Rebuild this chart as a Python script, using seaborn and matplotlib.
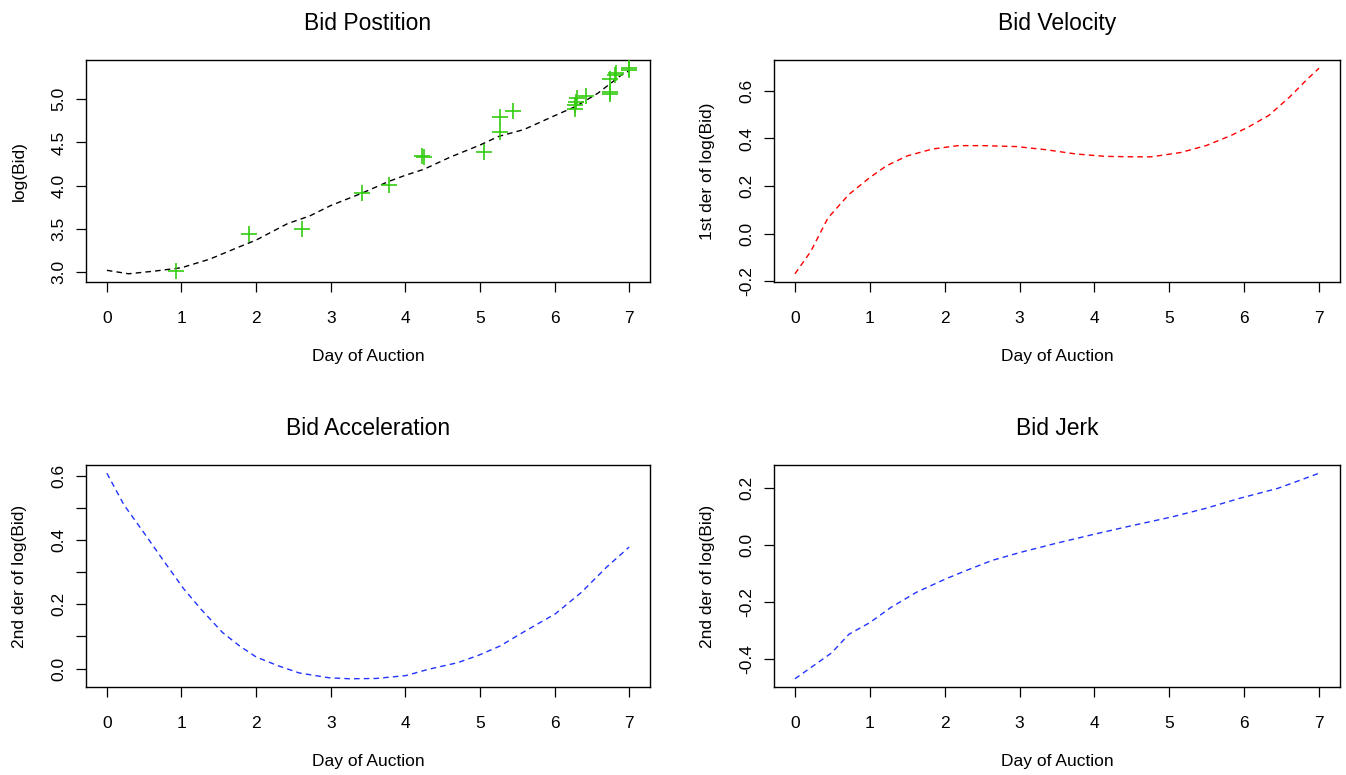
import matplotlib
matplotlib.use("Agg")
import matplotlib.pyplot as plt
import seaborn as sns

# ---------------- data ----------------
bid_day = [0.92, 1.90, 2.61, 3.42, 3.78, 4.23, 4.25, 5.05, 5.27, 5.27, 5.45,
           6.27, 6.28, 6.29, 6.30, 6.42, 6.75, 6.75, 6.75, 6.81, 6.82, 7.0, 7.0]
bid_log = [3.01, 3.44, 3.50, 3.92, 4.01, 4.34, 4.33, 4.39, 4.80, 4.62, 4.87,
           4.89, 4.93, 4.97, 5.01, 5.04, 5.08, 5.06, 5.24, 5.28, 5.31, 5.36, 5.34]

pos_day = [0.0, 0.29, 0.63, 1.0, 1.38, 1.77, 2.0, 2.42, 2.72, 3.0, 3.41, 3.78,
           4.0, 4.25, 4.60, 5.0, 5.25, 5.59, 6.0, 6.29, 6.58, 6.91, 7.0]
pos_val = [3.02, 2.98, 3.01, 3.05, 3.15, 3.29, 3.37, 3.56, 3.65, 3.77, 3.91, 4.05,
           4.12, 4.19, 4.33, 4.47, 4.57, 4.65, 4.81, 4.92, 5.07, 5.29, 5.33]

vel_day = [0.0, 0.21, 0.44, 0.72, 1.0, 1.22, 1.50, 1.84, 2.18, 2.51, 2.96, 3.35,
           3.75, 4.14, 4.53, 4.76, 5.15, 5.49, 5.82, 6.05, 6.33, 6.61, 6.83, 7.0]
vel_val = [-0.168, -0.075, 0.066, 0.165, 0.236, 0.285, 0.327, 0.356, 0.370, 0.370,
           0.366, 0.353, 0.335, 0.325, 0.323, 0.323, 0.341, 0.370, 0.412, 0.447,
           0.497, 0.575, 0.645, 0.695]

acc_day = [0.0, 0.23, 0.52, 0.74, 1.03, 1.26, 1.55, 1.78, 2.0, 2.29, 2.58, 2.98,
           3.26, 3.61, 4.01, 4.30, 4.70, 4.98, 5.27, 5.61, 6.01, 6.36, 6.70, 7.0]
acc_val = [0.608, 0.509, 0.415, 0.342, 0.248, 0.185, 0.112, 0.070, 0.036, 0.009,
           -0.014, -0.029, -0.032, -0.031, -0.022, -0.003, 0.018, 0.041, 0.070,
           0.117, 0.170, 0.237, 0.316, 0.378]

jerk_day = [0.0, 0.27, 0.49, 0.72, 1.0, 1.28, 1.62, 2.01, 2.29, 2.63, 3.02, 3.47,
            3.98, 4.48, 5.04, 5.49, 5.94, 6.45, 6.67, 7.0]
jerk_val = [-0.468, -0.418, -0.377, -0.312, -0.271, -0.218, -0.165, -0.118, -0.088,
            -0.053, -0.024, 0.006, 0.038, 0.068, 0.100, 0.130, 0.165, 0.200, 0.221,
            0.253]

x_ticks = [0, 1, 2, 3, 4, 5, 6, 7]
pos_ticks = [3.0, 3.5, 4.0, 4.5, 5.0]
vel_ticks = [-0.2, 0.0, 0.2, 0.4, 0.6]
acc_ticks = [0.0, 0.1, 0.2, 0.3, 0.4, 0.5, 0.6]
acc_labels = ["0.0", "", "0.2", "", "0.4", "", "0.6"]
jerk_ticks = [-0.4, -0.2, 0.0, 0.2]

titles = ["Bid Postition", "Bid Velocity", "Bid Acceleration", "Bid Jerk"]
ylabels = ["log(Bid)", "1st der of log(Bid)", "2nd der of log(Bid)", "2nd der of log(Bid)"]
xlabel = "Day of Auction"

# ---------------- style ----------------
sns.set_theme(style="ticks")
plt.rcParams['font.family'] = ['Liberation Sans', 'DejaVu Sans']
plt.rcParams.update({
    'axes.unicode_minus': False,
    'text.color': 'black',
    'axes.labelcolor': 'black',
    'xtick.color': 'black',
    'ytick.color': 'black',
    'axes.edgecolor': 'black',
    'axes.linewidth': 1.0,
})

W, H = 1346, 775
fig = plt.figure(figsize=(W / 100, H / 100), dpi=100)
fig.patch.set_facecolor('white')


def add_axes(l, t, r, b):
    return fig.add_axes([l / W, 1 - b / H, (r - l) / W, (b - t) / H])


ax1 = add_axes(86, 60, 650, 282)
ax2 = add_axes(774, 60, 1340, 282)
ax3 = add_axes(86, 465, 650, 687)
ax4 = add_axes(774, 465, 1340, 687)

dash = (0, (4, 3))

sns.lineplot(x=pos_day, y=pos_val, ax=ax1, color='black', linestyle=dash, linewidth=1.0)
sns.scatterplot(x=bid_day, y=bid_log, ax=ax1, marker='+', s=120, color='#33cc11',
                linewidth=1.2, zorder=3)
sns.lineplot(x=vel_day, y=vel_val, ax=ax2, color='#ff0000', linestyle=dash, linewidth=1.0)
sns.lineplot(x=acc_day, y=acc_val, ax=ax3, color='#2233ff', linestyle=dash, linewidth=1.0)
sns.lineplot(x=jerk_day, y=jerk_val, ax=ax4, color='#2233ff', linestyle=dash, linewidth=1.0)

axes = [ax1, ax2, ax3, ax4]
yticks = [pos_ticks, vel_ticks, acc_ticks, jerk_ticks]

for i, ax in enumerate(axes):
    ax.margins(x=0.04, y=0.04)
    ax.autoscale_view()
    ax.set_xticks(x_ticks)
    ax.set_xticklabels([str(v) for v in x_ticks])
    if i == 2:
        ax.set_yticks(acc_ticks)
        ax.set_yticklabels(acc_labels)
    else:
        ax.set_yticks(yticks[i])
        ax.set_yticklabels([f"{v:.1f}" for v in yticks[i]])
    for s in ax.spines.values():
        s.set_visible(True)
        s.set_color('black')
        s.set_linewidth(1.0)
    ax.tick_params(axis='both', direction='out', length=7, width=0.9,
                   labelsize=12.5, colors='black')
    ax.tick_params(axis='x', pad=14)
    ax.tick_params(axis='y', pad=7, labelrotation=90)
    for lab in ax.get_yticklabels():
        lab.set_va('center')
    ax.set_xlabel(xlabel, fontsize=12.5)
    ax.set_ylabel(ylabels[i], fontsize=12.5)
    ax.xaxis.set_label_coords(0.5, -0.30)
    ax.yaxis.set_label_coords(-0.105, 0.5)
    ax.set_title(titles[i], fontsize=16.5, y=1 + 30 / 222, pad=0)
    ax.grid(False)

fig.savefig("out.png", dpi=100, facecolor='white')
